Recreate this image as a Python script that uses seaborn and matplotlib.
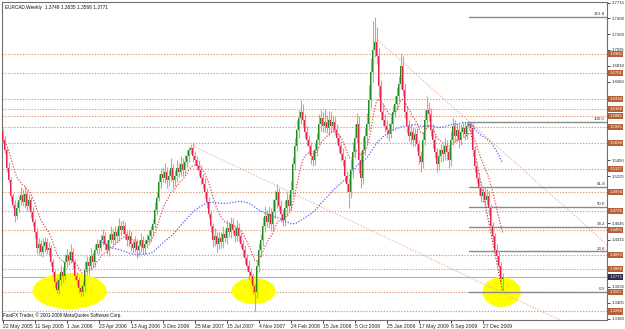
import numpy as np
import pandas as pd
import matplotlib
matplotlib.use("Agg")
import matplotlib.pyplot as plt
import seaborn as sns
from matplotlib.patches import Ellipse

# ---------------- data (weekly EURCAD bars, 22 May 2005 -> Mar 2010) ----------------
first_open = 1.5860
closes = [
    1.5743, 1.5600, 1.5341, 1.5169, 1.4939, 1.4810, 1.4652, 1.4767, 1.4882, 1.4954,
    1.4853, 1.4968, 1.4796, 1.4882, 1.4710, 1.4566, 1.4423, 1.4193, 1.4251, 1.4136,
    1.4222, 1.4279, 1.4164, 1.4193, 1.3992, 1.3849, 1.3705, 1.3590, 1.3734, 1.3849,
    1.3791, 1.3992, 1.4093, 1.4021, 1.4136, 1.3992, 1.3791, 1.3734, 1.3619, 1.3562,
    1.3648, 1.3877, 1.3992, 1.3935, 1.4078, 1.3992, 1.4164, 1.4251, 1.4193, 1.4308,
    1.4365, 1.4251, 1.4164, 1.4308, 1.4394, 1.4308, 1.4423, 1.4365, 1.4509, 1.4452,
    1.4509, 1.4394, 1.4308, 1.4365, 1.4251, 1.4193, 1.4279, 1.4164, 1.4222, 1.4308,
    1.4193, 1.4251, 1.4308, 1.4365, 1.4452, 1.4538, 1.4739, 1.4911, 1.5140, 1.5255,
    1.5198, 1.5284, 1.5169, 1.5226, 1.5341, 1.5169, 1.5226, 1.5341, 1.5284, 1.5399,
    1.5313, 1.5427, 1.5513, 1.5600, 1.5628, 1.5513, 1.5456, 1.5370, 1.5313, 1.5198,
    1.5112, 1.4997, 1.4853, 1.4681, 1.4509, 1.4308, 1.4365, 1.4251, 1.4337, 1.4279,
    1.4394, 1.4337, 1.4480, 1.4423, 1.4538, 1.4452, 1.4365, 1.4480, 1.4365, 1.4251,
    1.4164, 1.4050, 1.3935, 1.3849, 1.3791, 1.3648, 1.3562, 1.3935, 1.4164, 1.4308,
    1.4509, 1.4652, 1.4566, 1.4681, 1.4538, 1.4710, 1.4882, 1.4997, 1.4796, 1.4681,
    1.4595, 1.4767, 1.4882, 1.4796, 1.5026, 1.5399, 1.5657, 1.5887, 1.6059, 1.6145,
    1.6030, 1.5858, 1.5743, 1.5657, 1.5513, 1.5456, 1.5600, 1.5743, 1.5973, 1.6059,
    1.5944, 1.6001, 1.5915, 1.6030, 1.5944, 1.6001, 1.5887, 1.5772, 1.5657, 1.5542,
    1.5456, 1.5226, 1.5112, 1.4997, 1.5313, 1.5571, 1.5772, 1.5973, 1.5456, 1.5198,
    1.5600, 1.5800, 1.5973, 1.6317, 1.6719, 1.7035, 1.7149, 1.6948, 1.6518, 1.6145,
    1.6030, 1.5944, 1.5887, 1.5829, 1.5973, 1.6145, 1.6260, 1.6374, 1.6547, 1.6805,
    1.6461, 1.6145, 1.5944, 1.5800, 1.5858, 1.5743, 1.5829, 1.5686, 1.5513, 1.5427,
    1.5743, 1.6030, 1.6174, 1.6116, 1.5887, 1.5743, 1.5571, 1.5399, 1.5513, 1.5600,
    1.5542, 1.5657, 1.5571, 1.5456, 1.5743, 1.5944, 1.5800, 1.5887, 1.5743, 1.5858,
    1.5915, 1.5829, 1.5944, 1.5973, 1.5915, 1.5600, 1.5370, 1.5198, 1.5054, 1.4939,
    1.4997, 1.4882, 1.4939, 1.4767, 1.4509, 1.4365, 1.4164, 1.4078, 1.3935, 1.3749,
    1.3771,
]
upper_wick_pips = [
    40, 60, 30, 80, 50, 40, 70, 90, 60, 110,
    80, 120, 60, 90, 50, 70, 40, 60, 90, 50,
    110, 70, 60, 80, 40, 50, 30, 60, 90, 100,
    70, 120, 90, 60, 110, 50, 40, 60, 50, 40,
    90, 130, 80, 70, 110, 60, 90, 70, 60, 80,
    100, 60, 50, 90, 110, 70, 80, 60, 120, 70,
    90, 60, 50, 80, 70, 60, 90, 50, 80, 100,
    60, 70, 80, 90, 60, 70, 120, 90, 110, 80,
    90, 130, 70, 80, 140, 60, 90, 110, 70, 120,
    80, 100, 90, 40, 45, 80, 70, 60, 90, 70,
    60, 80, 50, 70, 60, 40, 110, 60, 90, 80,
    110, 70, 120, 90, 100, 80, 60, 110, 70, 60,
    50, 70, 60, 80, 60, 50, 40, 90, 100, 80,
    130, 150, 80, 120, 90, 180, 140, 110, 60, 80,
    70, 120, 110, 90, 130, 100, 120, 140, 110, 170,
    120, 80, 90, 70, 60, 80, 120, 100, 140, 110,
    90, 180, 100, 130, 110, 90, 70, 80, 60, 70,
    80, 60, 70, 90, 160, 140, 200, 150, 110, 130,
    180, 120, 150, 210, 200, 420, 360, 220, 120, 90,
    110, 90, 80, 100, 120, 90, 110, 130, 120, 180,
    140, 100, 90, 80, 110, 70, 90, 80, 60, 70,
    120, 150, 200, 110, 80, 90, 70, 60, 100, 80,
    90, 110, 80, 70, 130, 120, 90, 100, 80, 110,
    80, 80, 50, 32, 20, 70, 60, 50, 70, 80,
    90, 60, 100, 70, 60, 50, 40, 90, 70, 60,
    64,
]
lower_wick_pips = [
    50, 40, 60, 30, 70, 50, 80, 40, 60, 70,
    60, 90, 70, 50, 80, 60, 90, 70, 100, 60,
    70, 80, 50, 90, 60, 70, 80, 40, 60, 70,
    90, 60, 80, 70, 50, 90, 60, 80, 70, 70,
    60, 80, 70, 130, 60, 90, 70, 60, 80, 50,
    70, 90, 60, 80, 50, 70, 60, 90, 70, 80,
    60, 70, 90, 80, 100, 70, 60, 110, 80, 90,
    80, 90, 60, 70, 80, 90, 60, 70, 50, 80,
    60, 70, 110, 80, 70, 120, 80, 90, 70, 60,
    80, 60, 70, 90, 60, 80, 70, 60, 90, 80,
    70, 90, 80, 60, 90, 100, 80, 120, 70, 90,
    80, 60, 90, 70, 80, 60, 90, 70, 80, 60,
    90, 80, 70, 110, 100, 120, 270, 90, 80, 100,
    80, 90, 70, 80, 100, 90, 80, 110, 70, 120,
    90, 80, 110, 70, 60, 80, 90, 70, 110, 80,
    100, 90, 80, 110, 120, 90, 70, 80, 60, 100,
    80, 90, 70, 110, 80, 90, 70, 80, 90, 100,
    90, 80, 110, 230, 90, 120, 80, 70, 180, 140,
    90, 70, 110, 80, 120, 150, 100, 120, 160, 110,
    90, 80, 120, 100, 60, 90, 70, 80, 90, 70,
    80, 90, 100, 70, 110, 80, 90, 100, 110, 140,
    90, 70, 80, 100, 90, 110, 80, 120, 90, 80,
    100, 90, 110, 120, 80, 70, 90, 80, 110, 70,
    60, 80, 70, 60, 70, 90, 80, 70, 100, 90,
    80, 90, 70, 100, 80, 90, 70, 80, 90, 40,
    181,
]

date_labels = ["22 May 2005", "11 Sep 2005", "1 Jan 2006", "23 Apr 2006", "13 Aug 2006",
               "3 Dec 2006", "25 Mar 2007", "15 Jul 2007", "4 Nov 2007", "24 Feb 2008",
               "15 Jun 2008", "5 Oct 2008", "25 Jan 2009", "17 May 2009", "6 Sep 2009",
               "27 Dec 2009"]
price_ticks = [1.7715, 1.7490, 1.7260, 1.7035, 1.6810, 1.6580, 1.6355, 1.6130, 1.5905,
               1.5675, 1.5450, 1.5225, 1.5000, 1.4770, 1.4545, 1.4315, 1.4090, 1.3860,
               1.3635, 1.3405, 1.3180]
hline_levels = [1.6981, 1.6701, 1.6334, 1.6188, 1.6085, 1.5925, 1.5698, 1.5327, 1.4994,
                1.4726, 1.4455, 1.4093, 1.3888, 1.3557, 1.3282]
current_price = 1.3771
fib_names = ["161.8", "100.0", "61.8", "50.0", "38.2", "23.6", "0.0"]
fib_prices = [1.7511, 1.6005, 1.5074, 1.4787, 1.4499, 1.4143, 1.3568]
fib_start_bar = 233
fib_anchor_bars = [233, 250]
fib_anchor_prices = [1.6005, 1.3568]
trend1_bars = [94, 290]
trend1_prices = [1.5673, 1.3004]
trend2_bars = [187.5, 302.5]
trend2_prices = [1.7178, 1.4236]
ellipse_bars = [33.5, 125.5, 249.5]
ellipse_prices = [1.3576, 1.3576, 1.3562]
ellipse_w_bars = [37, 22, 19]
ellipse_h_price = [0.0517, 0.0373, 0.0431]
header = "EURCAD,Weekly  1.3749 1.3835 1.3568 1.3771"
copyright_txt = "FastFX Trader, \u00a9 2001-2008 MetaQuotes Software Corp."

# ---------------- derived OHLC ----------------
c = np.array(closes)
n = len(c)
bars = np.arange(n)
o = np.r_[first_open, c[:-1]]
hi = np.maximum(o, c) + np.array(upper_wick_pips) / 1e4
lo = np.minimum(o, c) - np.array(lower_wick_pips) / 1e4
bull = c >= o

df = pd.DataFrame({"bar": bars, "close": c})
df["ema"] = df["close"].ewm(span=13, adjust=False).mean()
df["sma"] = df["close"].rolling(50).mean()

# ---------------- figure ----------------
sns.set_style("white")
plt.rcParams["font.family"] = ["Liberation Sans", "DejaVu Sans"]

W, H = 625, 329
fig = plt.figure(figsize=(W / 100, H / 100), dpi=100)
ax = fig.add_axes([2 / W, 9 / H, 605 / W, 317.8 / H])
ax.set_facecolor("white")
ax.set_xlim(-0.3, 302.2)
ax.set_ylim(1.3160, 1.7720)

dot = (0, (1.2, 1.4))
for p in hline_levels:
    ax.axhline(p, color="#dd9a72", lw=0.8, ls=dot, zorder=1)
ax.axhline(current_price, color="#a9b0cc", lw=0.8, zorder=1)

for bx, by, bw, bh in zip(ellipse_bars, ellipse_prices, ellipse_w_bars, ellipse_h_price):
    ax.add_patch(Ellipse((bx, by), bw, bh, facecolor="#ffff00", edgecolor="none", zorder=1.5))

# trend lines
ax.plot(trend1_bars, trend1_prices, color="#efb497", lw=0.8, ls=dot, zorder=2)
ax.plot(trend2_bars, trend2_prices, color="#efb497", lw=0.8, ls=dot, zorder=2)

# fibonacci
for name, p in zip(fib_names, fib_prices):
    ax.plot([fib_start_bar, 302.2], [p, p], color="#8a8a8a", lw=1.0, zorder=2)
    ax.text(0.9965, p + 0.0008, name, transform=ax.get_yaxis_transform(), ha="right",
            va="bottom", fontsize=3.2, color="#333333", zorder=6)
ax.plot(fib_anchor_bars, fib_anchor_prices, color="#8c3a3a", lw=0.8, ls=dot, zorder=2.5)

# candles
wick_col = np.where(bull, "#86c886", "#f08c9c")
body_col = np.where(bull, "#1e8c1e", "#e3234a")
ax.vlines(bars, lo, hi, colors=wick_col, lw=0.8, zorder=3)
ax.bar(bars, np.where(np.abs(c - o) < 0.0012, 0.0012, c - o), bottom=o, width=0.75,
       color=body_col, edgecolor="none", zorder=4)

# moving averages
sns.lineplot(data=df, x="bar", y="ema", ax=ax, color="#e2524a", lw=0.9, ls=(0, (1, 1.3)),
             zorder=5)
sns.lineplot(data=df, x="bar", y="sma", ax=ax, color="#5c5ce8", lw=0.9, ls=(0, (1, 1.3)),
             zorder=5)
ax.set_xlabel("")
ax.set_ylabel("")

# axes styling
for s in ax.spines.values():
    s.set_color("#6e6e6e")
    s.set_linewidth(0.8)
ax.set_xticks(np.arange(0, 16 * len(date_labels), 16))
ax.set_xticklabels(date_labels)
for lab in ax.get_xticklabels():
    lab.set_ha("left")
ax.tick_params(axis="x", direction="out", length=2, width=0.6, pad=1, labelsize=3.7,
               colors="#222222", bottom=True)
ax.yaxis.tick_right()
# tick labels that sit under an opaque price box are hidden, as in the terminal
box_levels = hline_levels + [current_price]
shown = [p for p in price_ticks if min(abs(p - b) for b in box_levels) > 0.0046]
ax.set_yticks(shown)
ax.set_yticklabels([f"{p:.4f}" for p in shown])
ax.tick_params(axis="y", direction="out", length=2, width=0.6, pad=1.5, labelsize=3.1,
               colors="#222222", right=True)

# right-hand price boxes
for p in hline_levels:
    ax.text(1.0040, p, f"{p:.4f}", transform=ax.get_yaxis_transform(), ha="left", va="center",
            fontsize=3.1, color="white", clip_on=False, zorder=10,
            bbox=dict(boxstyle="square,pad=0.25", fc="#b4603a", ec="none"))
ax.text(1.0040, current_price, f"{current_price:.4f}", transform=ax.get_yaxis_transform(),
        ha="left", va="center", fontsize=3.1, color="white", clip_on=False, zorder=10,
        bbox=dict(boxstyle="square,pad=0.25", fc="#2e2a48", ec="none"))

fig.text(5 / W, 1 - 7 / H, header, fontsize=3.4, va="center", ha="left", color="#111111")
fig.text(3 / W, 1 - 315.5 / H, copyright_txt, fontsize=3.3, va="center", ha="left",
         color="#111111")

fig.savefig("out.png", dpi=100)
